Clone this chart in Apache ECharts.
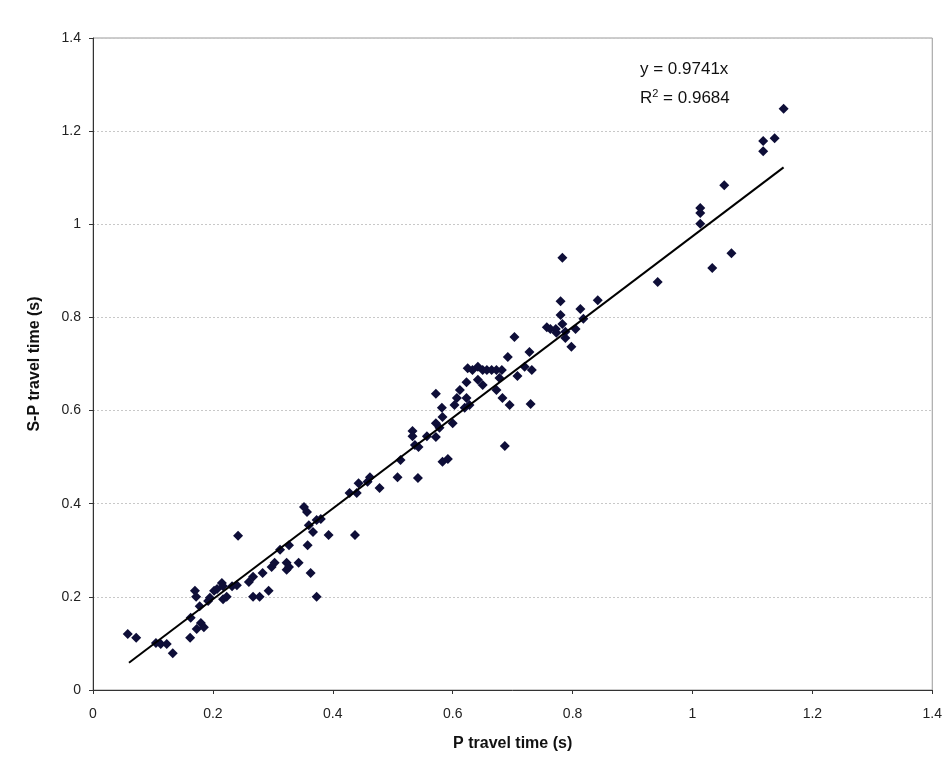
<!DOCTYPE html>
<html>
<head>
<meta charset="utf-8">
<script src="https://cdn.jsdelivr.net/npm/echarts@6/dist/echarts.min.js"></script>
<style>
html,body{margin:0;padding:0;background:#fff;}
#chart{width:945px;height:772px;}
</style>
</head>
<body>
<div id="chart"></div>
<script>
// P travel time (s)
const pTime = [
  0.058,0.072,0.105,0.113,0.123,0.133,0.162,0.163,0.173,0.180,
  0.185,0.170,0.172,0.178,0.192,0.195,0.202,0.207,0.215,0.217,
  0.217,0.223,0.232,0.240,0.242,0.260,0.267,0.267,0.278,0.283,
  0.293,0.298,0.303,0.312,0.327,0.323,0.323,0.327,0.343,0.352,
  0.357,0.360,0.367,0.358,0.363,0.373,0.380,0.373,0.393,0.428,
  0.440,0.437,0.443,0.458,0.462,0.478,0.508,0.513,0.533,0.533,
  0.537,0.542,0.543,0.557,0.572,0.572,0.572,0.578,0.583,0.582,
  0.583,0.592,0.600,0.603,0.607,0.612,0.620,0.623,0.623,0.625,
  0.628,0.633,0.642,0.642,0.650,0.650,0.657,0.665,0.673,0.673,
  0.678,0.682,0.683,0.687,0.692,0.695,0.703,0.708,0.720,0.728,
  0.730,0.732,0.757,0.763,0.772,0.773,0.783,0.783,0.780,0.780,
  0.788,0.788,0.798,0.805,0.813,0.818,0.842,0.942,1.013,1.013,
  1.013,1.033,1.053,1.065,1.118,1.118,1.137,1.152
];
// S-P travel time (s)
const spTime = [
  0.120,0.112,0.101,0.099,0.099,0.079,0.112,0.155,0.131,0.144,
  0.135,0.213,0.200,0.180,0.191,0.198,0.213,0.217,0.230,0.223,
  0.195,0.200,0.223,0.225,0.331,0.232,0.243,0.200,0.200,0.251,
  0.213,0.264,0.273,0.301,0.311,0.273,0.258,0.264,0.273,0.393,
  0.382,0.354,0.339,0.311,0.251,0.365,0.367,0.200,0.333,0.423,
  0.423,0.333,0.444,0.447,0.457,0.434,0.457,0.494,0.556,0.545,
  0.526,0.455,0.522,0.545,0.573,0.543,0.636,0.563,0.586,0.606,
  0.490,0.496,0.573,0.612,0.627,0.644,0.606,0.627,0.661,0.691,
  0.612,0.687,0.694,0.666,0.655,0.687,0.687,0.687,0.687,0.644,
  0.670,0.687,0.627,0.524,0.715,0.612,0.758,0.674,0.694,0.726,
  0.614,0.687,0.779,0.775,0.775,0.767,0.786,0.928,0.835,0.805,
  0.769,0.756,0.737,0.775,0.818,0.797,0.837,0.876,1.035,1.024,
  1.001,0.906,1.084,0.938,1.179,1.157,1.185,1.248
];
// Linear trendline through origin: y = slope * x, drawn over the data range
const trendSlope = 0.9741;
const trendR2 = 0.9684;
const trendRange = [0.06, 1.152];

const points = pTime.map((x, i) => [x, spTime[i]]);
const trend = trendRange.map(x => [x, trendSlope * x]);

const FONT = '"Liberation Sans", Arial, sans-serif';
const chart = echarts.init(document.getElementById('chart'));
chart.setOption({
  backgroundColor: '#fff',
  animation: false,
  grid: {left: 93, top: 38, right: 12, bottom: 82, show: true,
         borderColor: '#9a9a9a', borderWidth: 1, backgroundColor: 'transparent'},
  xAxis: {
    type: 'value', min: 0, max: 1.4, interval: 0.2,
    name: 'P travel time (s)', nameLocation: 'middle', nameGap: 46,
    nameTextStyle: {fontFamily: FONT, fontWeight: 'bold', fontSize: 16, color: '#111'},
    axisLine: {show: true, lineStyle: {color: '#333', width: 1}},
    axisTick: {show: true, inside: false, length: 4, lineStyle: {color: '#333'}},
    axisLabel: {margin: 17, fontFamily: FONT, fontSize: 14, color: '#222',
      formatter: v => String(+v.toFixed(1))},
    splitLine: {show: false}
  },
  yAxis: {
    type: 'value', min: 0, max: 1.4, interval: 0.2,
    name: 'S-P travel time (s)', nameLocation: 'middle', nameGap: 50,
    nameTextStyle: {fontFamily: FONT, fontWeight: 'bold', fontSize: 16, color: '#111'},
    axisLine: {show: true, lineStyle: {color: '#333', width: 1}},
    axisTick: {show: true, inside: false, length: 4, lineStyle: {color: '#333'}},
    axisLabel: {margin: 12, fontFamily: FONT, fontSize: 14, color: '#222',
      formatter: v => String(+v.toFixed(1))},
    splitLine: {show: true, lineStyle: {color: '#c8c8c8', type: [2, 2], width: 1}}
  },
  series: [
    {
      type: 'scatter', data: points, symbol: 'diamond', symbolSize: 10,
      itemStyle: {color: '#0e0e38', opacity: 1}, z: 3
    },
    {
      type: 'line', data: trend, symbol: 'none', showSymbol: false,
      lineStyle: {color: '#000', width: 2}, z: 4, silent: true
    }
  ],
  graphic: [
    {type: 'text', left: 640, top: 61, style: {text: 'y = ' + trendSlope + 'x',
      font: '17px ' + FONT, fill: '#111'}},
    {type: 'text', left: 640, top: 88, style: {text: '{a|R}{s|2}{a| = ' + trendR2 + '}',
      rich: {a: {font: '17px ' + FONT, fill: '#111', color: '#111', verticalAlign: 'bottom'},
             s: {font: '11px ' + FONT, fill: '#111', color: '#111', verticalAlign: 'top', padding: [0,0,8,0]}}}}
  ]
});
</script>
</body>
</html>
